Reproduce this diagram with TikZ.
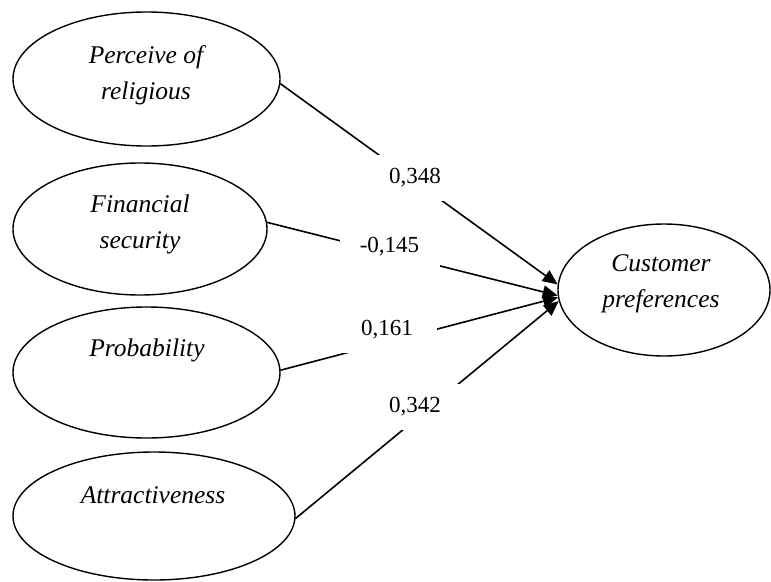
\documentclass[tikz,border=0pt]{standalone}
\usepackage{fontspec}
\setmainfont{Liberation Serif}
\usetikzlibrary{shapes.geometric,arrows.meta}
\tikzset{
  latent/.style={ellipse, draw, line width=1.4pt, inner sep=0pt},
  ltext/.style={font=\fontsize{25.5}{36}\selectfont\itshape, align=center, inner sep=0pt},
  conn/.style={line width=1.6pt, -{Triangle[length=15pt,width=13pt]}},
  coef/.style={fill=white, minimum width=100pt, minimum height=46pt, inner sep=0pt, font=\fontsize{23}{27}\selectfont}
}
\begin{document}
\begin{tikzpicture}[x=1pt,y=-1pt]
\useasboundingbox (0,0) rectangle (771,581);
% latent variables
\node[latent, minimum width=267pt, minimum height=134pt] (e1) at (146.5,79) {};
\node[latent, minimum width=254pt, minimum height=132pt] (e2) at (140,229) {};
\node[latent, minimum width=267pt, minimum height=131pt] (e3) at (146.5,372.5) {};
\node[latent, minimum width=282pt, minimum height=128pt] (e4) at (154,516) {};
\node[latent, minimum width=212pt, minimum height=132pt] (cp) at (664,290) {};
% texts
\node[ltext] (t1) at (146,75) {Perceive of\\religious};
\node[ltext] (t2) at (140,224.5) {Financial\\security};
\node[ltext] (t3) at (147,350) {Probability};
\node[ltext] (t4) at (153,495) {Attractiveness};
\node[ltext] (t5) at (661,283.5) {Customer\\preferences};
% connectors
\draw[conn] (e1.-2) -- (cp.177);
\draw[conn] (e2.3) -- (cp.183);
\draw[conn] (e3.1) -- (cp.184.5);
\draw[conn] (e4.-1) -- (cp.186);
% coefficients
\node[coef] (l1) at (415,178) {0,348};
\node[coef] (l2) at (389.5,247) {-0,145};
\node[coef] (l3) at (387,330) {0,161};
\node[coef] (l4) at (415,407) {0,342};
\end{tikzpicture}
\end{document}
